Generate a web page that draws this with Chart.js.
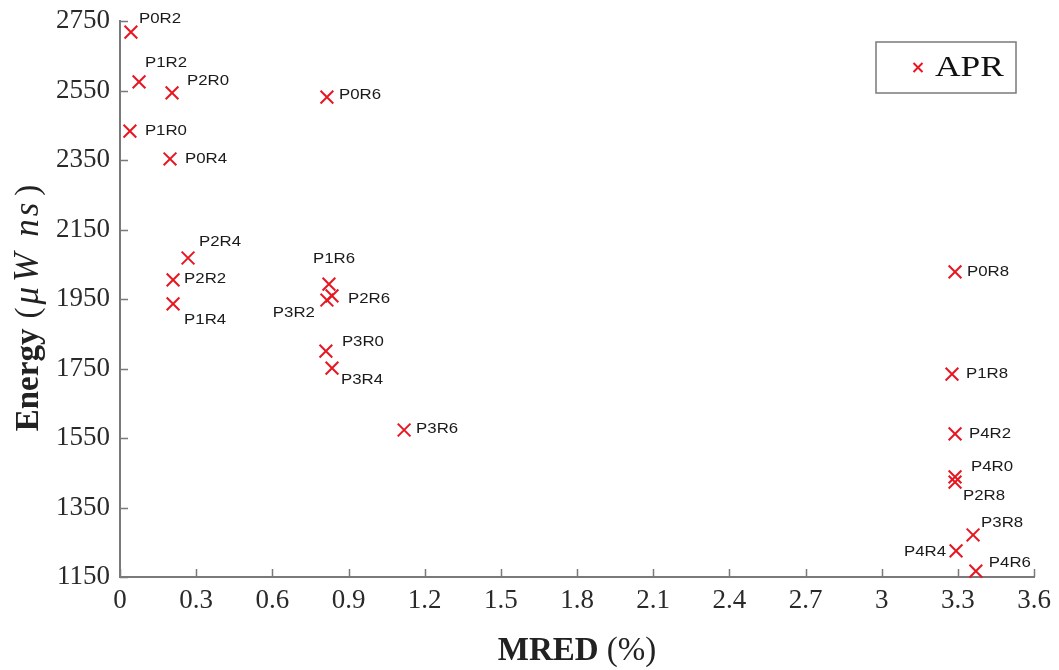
<!DOCTYPE html>
<html>
<head>
<meta charset="utf-8">
<script src="https://cdn.jsdelivr.net/npm/chart.js@4.4.1/dist/chart.umd.min.js"></script>
<style>
    html, body { margin: 0; padding: 0; background: #fff; }
    canvas { display: block; }
</style>
</head>
<body>
<canvas id="chart" width="1059" height="670"></canvas>
<script>
(function () {
    "use strict";

    // Data
    const pointNames = [
        "P0R2", "P1R2", "P2R0", "P1R0", "P0R4", "P0R6",
        "P2R4", "P2R2", "P1R4", "P1R6", "P2R6", "P3R2",
        "P3R0", "P3R4", "P3R6", "P0R8", "P1R8", "P4R2",
        "P4R0", "P2R8", "P3R8", "P4R4", "P4R6",
    ];
    const mred = [
        0.043, 0.075, 0.205, 0.039, 0.197, 0.815,
        0.268, 0.209, 0.209, 0.823, 0.835, 0.815,
        0.811, 0.835, 1.119, 3.289, 3.277, 3.289,
        3.289, 3.289, 3.36, 3.293, 3.371,
    ];
    const energy = [
        2718, 2575, 2543, 2433, 2353, 2531,
        2068, 2005, 1936, 1993, 1959, 1947,
        1800, 1751, 1573, 2028, 1734, 1562,
        1438, 1423, 1271, 1225, 1167,
    ];
    const xTicks = [0, 0.3, 0.6, 0.9, 1.2, 1.5, 1.8, 2.1, 2.4, 2.7, 3, 3.3, 3.6];
    const yTicks = [1150, 1350, 1550, 1750, 1950, 2150, 2350, 2550, 2750];
    const seriesName = "APR";

    // Label placement next to each marker: [dx, dy, align]
    const labelOffsets = {
        P0R2: [8, -13, "left"], P1R2: [6, -19, "left"], P2R0: [15, -12, "left"],
        P1R0: [15, 0, "left"], P0R4: [15, 0, "left"], P0R6: [12, -2, "left"],
        P2R4: [11, -16, "left"], P2R2: [11, -1, "left"], P1R4: [11, 16, "left"],
        P1R6: [-16, -25, "left"], P2R6: [16, 3, "left"], P3R2: [-12, 13, "right"],
        P3R0: [16, -9, "left"], P3R4: [9, 12, "left"], P3R6: [12, -1, "left"],
        P0R8: [12, 0, "left"], P1R8: [14, 0, "left"], P4R2: [14, 0, "left"],
        P4R0: [16, -10, "left"], P2R8: [8, 14, "left"], P3R8: [8, -12, "left"],
        P4R4: [-10, 1, "right"], P4R6: [13, -8, "left"],
    };

    const red = "rgb(232, 22, 32)";
    const axisGray = "#7a7a7a";
    const serif = "'Liberation Serif', 'Times New Roman', serif";
    const sans = "'Liberation Sans', Arial, sans-serif";

    // Inward tick marks
    const innerTicks = {
        id: "innerTicks",
        afterDraw(chart) {
            const { ctx, chartArea, scales } = chart;
            ctx.save();
            ctx.strokeStyle = axisGray;
            ctx.lineWidth = 1.5;
            ctx.beginPath();
            xTicks.forEach((v) => {
                const px = Math.round(scales.x.getPixelForValue(v)) + 0.5;
                ctx.moveTo(px, chartArea.bottom);
                ctx.lineTo(px, chartArea.bottom - 8);
            });
            yTicks.forEach((v) => {
                const py = Math.round(scales.y.getPixelForValue(v)) + 0.5;
                ctx.moveTo(chartArea.left, py);
                ctx.lineTo(chartArea.left + 8, py);
            });
            ctx.stroke();
            ctx.restore();
        },
    };

    // Point labels
    const pointLabels = {
        id: "pointLabels",
        afterDatasetsDraw(chart) {
            const { ctx } = chart;
            const meta = chart.getDatasetMeta(0);
            ctx.save();
            ctx.fillStyle = "#1a1a1a";
            ctx.font = "14.5px " + sans;
            ctx.textBaseline = "middle";
            meta.data.forEach((pt, i) => {
                const name = pointNames[i];
                const off = labelOffsets[name] || [12, 0, "left"];
                ctx.save();
                ctx.translate(pt.x + off[0], pt.y + off[1]);
                ctx.scale(1.16, 1);
                ctx.textAlign = off[2];
                ctx.fillText(name, 0, 0);
                ctx.restore();
            });
            ctx.restore();
        },
    };

    // Legend box and axis titles
    const decorations = {
        id: "decorations",
        afterDraw(chart) {
            const { ctx, chartArea } = chart;
            ctx.save();

            // legend
            const bx = chartArea.right - 158, by = chartArea.top + 21;
            const bw = 140, bh = 51;
            ctx.fillStyle = "#fff";
            ctx.fillRect(bx, by, bw, bh);
            ctx.strokeStyle = axisGray;
            ctx.lineWidth = 1.5;
            ctx.strokeRect(bx, by, bw, bh);
            const mx = bx + 42, my = by + bh / 2;
            ctx.strokeStyle = red;
            ctx.lineWidth = 2;
            ctx.beginPath();
            ctx.moveTo(mx - 4.5, my - 4.5); ctx.lineTo(mx + 4.5, my + 4.5);
            ctx.moveTo(mx - 4.5, my + 4.5); ctx.lineTo(mx + 4.5, my - 4.5);
            ctx.stroke();
            ctx.fillStyle = "#111";
            ctx.font = "30px " + serif;
            ctx.textBaseline = "middle";
            ctx.textAlign = "left";
            ctx.save();
            ctx.translate(bx + 59, my + 1);
            ctx.scale(1.18, 1);
            ctx.fillText(seriesName, 0, 0);
            ctx.restore();

            // x title: bold MRED + (%)
            const cx = (chartArea.left + chartArea.right) / 2;
            ctx.textBaseline = "alphabetic";
            ctx.fillStyle = "#222";
            const boldF = "bold 33px " + serif, regF = "33px " + serif;
            ctx.font = boldF;
            const w1 = ctx.measureText("MRED").width;
            ctx.font = regF;
            const w2 = ctx.measureText(" (%)").width;
            const x0 = cx - (w1 + w2) / 2;
            ctx.font = boldF;
            ctx.fillText("MRED", x0, 660);
            ctx.font = regF;
            ctx.fillText(" (%)", x0 + w1, 660);

            // y title: bold Energy + (μW ns), pieces with gaps after them
            const parts = [
                ["Energy", "bold 33px " + serif, 10],
                ["(", "33px " + serif, 3],
                ["\u03bc", "italic 35px " + serif, 5],
                ["W", "italic 35px " + serif, 16],
                ["n", "italic 35px " + serif, 3],
                ["s", "italic 35px " + serif, 7],
                [")", "33px " + serif, 0],
            ];
            let total = 0;
            const widths = parts.map((p) => {
                ctx.font = p[1];
                const w = ctx.measureText(p[0]).width + p[2];
                total += w;
                return w;
            });
            ctx.translate(38, (chartArea.top + chartArea.bottom) / 2);
            ctx.rotate(-Math.PI / 2);
            let pos = -total / 2 - 9;
            parts.forEach((p, i) => {
                ctx.font = p[1];
                ctx.fillText(p[0], pos, 0);
                pos += widths[i];
            });
            ctx.restore();
        },
    };

    const ctx = document.getElementById("chart").getContext("2d");

    new Chart(ctx, {
        type: "scatter",
        data: {
            datasets: [
                {
                    label: seriesName,
                    data: mred.map((x, i) => ({ x: x, y: energy[i] })),
                    pointStyle: "crossRot",
                    radius: 9,
                    hoverRadius: 9,
                    borderWidth: 2,
                    borderColor: red,
                    backgroundColor: red,
                    clip: false,
                },
            ],
        },
        options: {
            responsive: false,
            animation: false,
            devicePixelRatio: 1,
            layout: {
                padding: { top: 21, right: 25, left: 0, bottom: 0 },
            },
            plugins: {
                legend: { display: false },
                tooltip: { enabled: false },
            },
            scales: {
                x: {
                    type: "linear",
                    min: 0,
                    max: 3.6,
                    afterBuildTicks: (s) => {
                        s.ticks = xTicks.map((v) => ({ value: v }));
                    },
                    afterFit: (s) => {
                        s.height = 93;
                        s.paddingLeft = 0;
                        s.paddingRight = 0;
                    },
                    ticks: {
                        autoSkip: false,
                        maxRotation: 0,
                        padding: 8,
                        color: "#2a2a2a",
                        font: { family: serif, size: 27 },
                        callback: (v) => String(Math.round(v * 10) / 10),
                    },
                    grid: { display: false, drawTicks: false },
                    border: { display: true, color: axisGray, width: 2 },
                },
                y: {
                    type: "linear",
                    min: 1150,
                    max: 2750,
                    afterBuildTicks: (s) => {
                        s.ticks = yTicks.map((v) => ({ value: v }));
                    },
                    afterFit: (s) => {
                        s.width = 120;
                        s.paddingTop = 0;
                        s.paddingBottom = 0;
                    },
                    ticks: {
                        autoSkip: false,
                        padding: 10,
                        color: "#2a2a2a",
                        font: { family: serif, size: 27 },
                        callback: (v) => String(v),
                    },
                    grid: { display: false, drawTicks: false },
                    border: { display: true, color: axisGray, width: 2 },
                },
            },
        },
        plugins: [innerTicks, pointLabels, decorations],
    });
})();
</script>
</body>
</html>
